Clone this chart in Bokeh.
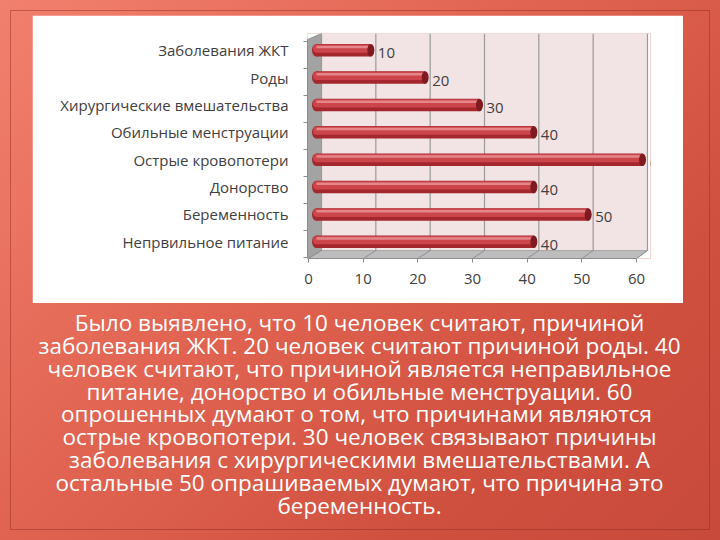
from bokeh.plotting import figure
from bokeh.models import Range1d, FixedTicker, LinearAxis, ColumnDataSource
from bokeh.layouts import column
from bokeh.embed import file_html
from bokeh.resources import INLINE
from bokeh.core.properties import value

# ---------------- data ----------------
categories = ["Заболевания ЖКТ", "Роды", "Хирургические вмешательства",
              "Обильные менструации", "Острые кровопотери", "Донорство",
              "Беременность", "Непрвильное питание"]          # top -> bottom
counts = [10, 20, 30, 40, 60, 40, 50, 40]
x_ticks = [0, 10, 20, 30, 40, 50, 60]
text_lines = [
    "Было выявлено, что 10 человек считают, причиной",
    "заболевания ЖКТ. 20 человек считают причиной роды. 40",
    "человек считают, что причиной является неправильное",
    "питание, донорство и обильные менструации. 60",
    "опрошенных  думают о том, что причинами являются",
    "острые кровопотери. 30 человек связывают причины",
    "заболевания с хирургическими вмешательствами. А",
    "остальные 50 опрашиваемых думают, что причина это",
    "беременность.",
]

# ---------------- styles ----------------
FONT = "Open Sans"
LABEL_COLOR = "#404040"
AXIS_GRAY = "#8c8c8c"

n = len(categories)
ypos = [n - i - 0.5 for i in range(n)]

# px mapping constants for the pseudo-3D box
front_scale, front_0 = 5.4667, 308.0
back_scale, back_0 = 5.4333, 321.0
frame_l, frame_r = 307.0, 650.0

p = figure(width=651, height=288, sizing_mode="fixed",
           x_range=Range1d(-1.656, 61.47), y_range=Range1d(-0.11, 8.11),
           output_backend="svg", toolbar_location=None,
           x_axis_location=None, y_axis_location=None,
           min_border_left=275, min_border_right=33,
           min_border_top=18, min_border_bottom=45,
           background_fill_color="white", border_fill_color="white",
           outline_line_color=None)
p.grid.visible = False
p.extra_x_ranges = {
    "front": Range1d((frame_l - front_0) / front_scale, 60 + (frame_r - (front_0 + 60 * front_scale)) / front_scale),
    "back": Range1d((frame_l - back_0) / back_scale, 60 + (frame_r - (back_0 + 60 * back_scale)) / back_scale),
}
left_b = (frame_l - back_0) / back_scale
floor_back_y = 0.18
floor_front_y = -0.11
front_in_back = lambda t: (front_0 + front_scale * t - back_0) / back_scale

# back wall
p.quad(left=0, right=60, bottom=floor_back_y, top=8.11, x_range_name="back",
       fill_color="#f2e4e4", line_color=None)
# left wall
p.patch(x=[left_b, left_b, 0, 0], y=[floor_front_y, 7.89, 8.11, floor_back_y],
        x_range_name="back", fill_color="#a3a3a3", line_color="#8a8a8a", line_width=0.8)
# floor
p.patch(x=[left_b, 0, 60, front_in_back(60)],
        y=[floor_front_y, floor_back_y, floor_back_y, floor_front_y],
        x_range_name="back", fill_color="#bdbdbd", line_color="#9a9a9a", line_width=0.8)
# back grid lines
p.segment(x0=x_ticks, x1=x_ticks, y0=[floor_back_y] * len(x_ticks), y1=[8.11] * len(x_ticks),
          x_range_name="back", line_color="#9a9a9a", line_width=1.2)
# floor grid lines
p.segment(x0=x_ticks, x1=[front_in_back(t) for t in x_ticks],
          y0=[floor_back_y] * len(x_ticks), y1=[floor_front_y] * len(x_ticks),
          x_range_name="back", line_color="#8f8f8f", line_width=1)

src = ColumnDataSource(dict(y=ypos, v=counts, lab=[str(c) for c in counts],
                            y_hi=[y + 0.06 for y in ypos], y_hl=[y + 0.12 for y in ypos],
                            zero=[0] * n))
# cylinder bars
p.hbar(y="y", left="zero", right="v", height=0.46, source=src, fill_color="#a3272d", line_color=None)
p.ellipse(x="zero", y="y", width=9, height=12.6, width_units="screen", height_units="screen",
          source=src, fill_color="#a3272d", line_color=None)
p.hbar(y="y_hi", left="zero", right="v", height=0.3, source=src, fill_color="#cc454b", line_color=None)
p.ellipse(x="zero", y="y_hi", width=7, height=8, width_units="screen", height_units="screen",
          source=src, fill_color="#cc454b", line_color=None)
p.hbar(y="y_hl", left="zero", right="v", height=0.09, source=src, fill_color="#e4868a", line_color=None)
p.ellipse(x="v", y="y", width=7, height=12.6, width_units="screen", height_units="screen",
          source=src, fill_color="#7e1a20", line_color=None)

# value labels
p.text(x="v", y="y", text="lab", source=src, x_offset=7, y_offset=3,
       text_font=value(FONT), text_font_size="15px", text_color=LABEL_COLOR,
       text_align="left", text_baseline="middle")

# y axis (category labels + boundary ticks)
yax = LinearAxis(ticker=FixedTicker(ticks=ypos, minor_ticks=[k * 0.986 - 0.07 for k in range(n + 1)]),
                 major_label_overrides={y: c for y, c in zip(ypos, categories)},
                 major_tick_line_color=None, major_tick_out=0, major_tick_in=0,
                 minor_tick_out=4, minor_tick_in=0, minor_tick_line_color=AXIS_GRAY,
                 axis_line_color=AXIS_GRAY, bounds=(-0.11, 7.89),
                 major_label_standoff=15,
                 major_label_text_font=FONT, major_label_text_font_size="15px",
                 major_label_text_color=LABEL_COLOR)
p.add_layout(yax, "left")

# x axis (front)
xax = LinearAxis(x_range_name="front", ticker=FixedTicker(ticks=x_ticks), bounds=(0, 60),
                 major_tick_out=4, major_tick_in=0, minor_tick_line_color=None,
                 major_tick_line_color=AXIS_GRAY, axis_line_color=AXIS_GRAY,
                 major_label_standoff=11,
                 major_label_text_font=FONT, major_label_text_font_size="15px",
                 major_label_text_color=LABEL_COLOR)
p.add_layout(xax, "below")

# ---------------- paragraph ----------------
tf = figure(width=698, height=228, sizing_mode="fixed",
            x_range=Range1d(0, 698), y_range=Range1d(-9.13, 0.82),
            output_backend="svg", toolbar_location=None,
            x_axis_location=None, y_axis_location=None,
            min_border=0, min_border_left=0, min_border_right=0,
            min_border_top=0, min_border_bottom=0,
            background_fill_alpha=0, border_fill_alpha=0, outline_line_color=None)
tf.grid.visible = False
tf.text(x=[348] * len(text_lines), y=[-i for i in range(len(text_lines))], text=text_lines,
        text_font=value("Open Sans"), text_font_size="22.5px", text_color="white",
        text_align="center", text_baseline="middle")

top = column(p, margin=(15, 37, 0, 32), width=651, height=288, sizing_mode="fixed")
bottom = column(tf, margin=(0, 11, 0, 11), width=698, height=228, sizing_mode="fixed")

root = column(top, bottom, width=720, height=540, sizing_mode="fixed",
              styles={"background": "linear-gradient(135deg, #f2806e 0%, #e26553 40%, #d0503f 75%, #c84a3b 100%)",
                      "outline": "1px solid rgba(140,40,30,0.45)",
                      "outline-offset": "-11px"})

open("out.html", "w").write(file_html(root, INLINE))
